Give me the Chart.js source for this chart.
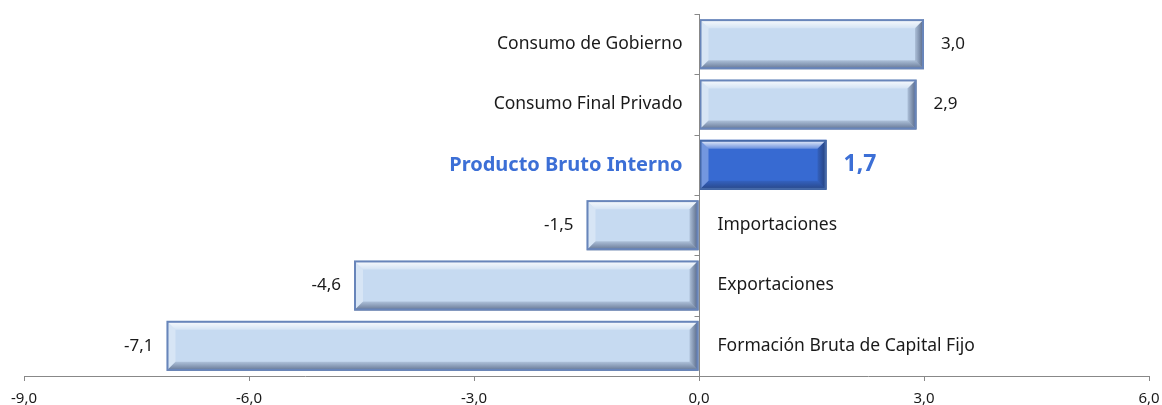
<!DOCTYPE html>
<html>
<head>
<meta charset="utf-8">
<script src="https://cdn.jsdelivr.net/npm/chart.js@4"></script>
<style>
  html, body { margin: 0; padding: 0; background: #fff; }
  #wrap { width: 1162px; height: 405px; }
</style>
</head>
<body>
<div id="wrap"><canvas id="growthChart"></canvas></div>
<script>
// data
var categories = ["Consumo de Gobierno", "Consumo Final Privado", "Producto Bruto Interno", "Importaciones", "Exportaciones", "Formación Bruta de Capital Fijo"];
var values = [3.0, 2.9, 1.7, -1.5, -4.6, -7.1];
var xTicks = [-9, -6, -3, 0, 3, 6];
var highlighted = "Producto Bruto Interno";

var FONT = "'Noto Sans', 'Open Sans', sans-serif";
var lightFill = "#C6DAF1", lightBorder = "#6885BA";
var darkFill = "#376AD2", darkBorder = "#4468A8";
var blueText = "#3C6FD6";

function fmt(v) {
    return v.toFixed(1).replace(".", ",");
}

function isHi(i) {
    return categories[i] == highlighted;
}

function poly(ctx, pts, fill) {
    ctx.beginPath();
    ctx.moveTo(pts[0][0], pts[0][1]);
    for (let i = 1; i < pts.length; i++) ctx.lineTo(pts[i][0], pts[i][1]);
    ctx.closePath();
    ctx.fillStyle = fill;
    ctx.fill();
}

// bevel look of the bars, axis at zero and all the texts
var decorate = {
    id: "decorate",
    afterDatasetsDraw: function (chart) {
        var ctx = chart.ctx;
        var xs = chart.scales.x;
        var area = chart.chartArea;
        var meta = chart.getDatasetMeta(0);
        var w = 9;

        meta.data.forEach(function (bar, i) {
            var l = Math.min(bar.x, bar.base), r = Math.max(bar.x, bar.base);
            var t = bar.y - bar.height / 2, b = bar.y + bar.height / 2;
            ctx.save();
            var g = ctx.createLinearGradient(0, t, 0, t + w);
            g.addColorStop(0, "rgba(255,255,255,0.95)");
            g.addColorStop(1, "rgba(255,255,255,0.25)");
            poly(ctx, [[l, t], [r, t], [r - w, t + w], [l + w, t + w]], g);
            poly(ctx, [[l, t], [l + w, t + w], [l + w, b - w], [l, b]], "rgba(255,255,255,0.3)");
            var g2 = ctx.createLinearGradient(0, b - w, 0, b);
            g2.addColorStop(0, "rgba(30,45,80,0.15)");
            g2.addColorStop(1, "rgba(30,45,80,0.6)");
            poly(ctx, [[l, b], [r, b], [r - w, b - w], [l + w, b - w]], g2);
            var g3 = ctx.createLinearGradient(r - w, 0, r, 0);
            g3.addColorStop(0, "rgba(30,45,80,0.15)");
            g3.addColorStop(1, "rgba(30,45,80,0.7)");
            poly(ctx, [[r, t], [r - w, t + w], [r - w, b - w], [r, b]], g3);
            ctx.lineWidth = 2;
            ctx.strokeStyle = isHi(i) ? darkBorder : lightBorder;
            ctx.strokeRect(l + 1, t + 1, r - l - 2, b - t - 2);
            ctx.restore();
        });

        // vertical axis at zero with small ticks between categories
        var x0 = Math.round(xs.getPixelForValue(0)) + 0.5;
        ctx.save();
        ctx.strokeStyle = "#888888";
        ctx.lineWidth = 1;
        ctx.beginPath();
        ctx.moveTo(x0, area.top);
        ctx.lineTo(x0, area.bottom);
        for (let i = 0; i <= categories.length; i++) {
            var yy = Math.round(area.top + (area.bottom - area.top) * i / categories.length) + 0.5;
            ctx.moveTo(x0 - 5, yy);
            ctx.lineTo(x0, yy);
        }
        ctx.stroke();
        ctx.restore();

        // category names next to the axis, values at the bar ends
        ctx.save();
        ctx.textBaseline = "middle";
        meta.data.forEach(function (bar, i) {
            var v = values[i];
            var hi = isHi(i);
            ctx.fillStyle = hi ? blueText : "#1A1A1A";
            ctx.font = hi ? "bold 20px " + FONT : "17.5px " + FONT;
            if (v >= 0) {
                ctx.textAlign = "right";
                ctx.fillText(categories[i], x0 - 17, bar.y);
            } else {
                ctx.textAlign = "left";
                ctx.fillText(categories[i], x0 + 18, bar.y);
            }
            ctx.font = hi ? "bold 23px " + FONT : "17px " + FONT;
            if (v >= 0) {
                ctx.textAlign = "left";
                ctx.fillText(fmt(v), bar.x + 17, bar.y);
            } else {
                ctx.textAlign = "right";
                ctx.fillText(fmt(v), bar.x - 13, bar.y);
            }
        });
        ctx.restore();
    }
};

new Chart("growthChart", {
    type: "bar",
    data: {
        labels: categories,
        datasets: [{
            data: values,
            backgroundColor: categories.map(function (c, i) { return isHi(i) ? darkFill : lightFill; }),
            borderWidth: 0,
            barPercentage: 0.83,
            categoryPercentage: 1
        }]
    },
    options: {
        indexAxis: "y",
        responsive: true,
        maintainAspectRatio: false,
        animation: false,
        layout: { padding: { left: 24, right: 13, top: 14, bottom: 0 } },
        plugins: {
            legend: { display: false },
            tooltip: { enabled: false }
        },
        scales: {
            x: {
                min: xTicks[0],
                max: xTicks[xTicks.length - 1],
                afterBuildTicks: function (scale) {
                    scale.ticks = xTicks.map(function (v) { return { value: v }; });
                },
                afterFit: function (scale) {
                    scale.height = 29;
                    scale.paddingLeft = 0;
                    scale.paddingRight = 0;
                },
                grid: {
                    drawOnChartArea: false,
                    tickLength: 5,
                    tickColor: "#888888"
                },
                border: { display: true, color: "#888888" },
                ticks: {
                    padding: 9,
                    maxRotation: 0,
                    color: "#1A1A1A",
                    font: { family: FONT, size: 15 },
                    callback: function (v) { return fmt(v); }
                }
            },
            y: {
                display: false
            }
        }
    },
    plugins: [decorate]
});
</script>
</body>
</html>
